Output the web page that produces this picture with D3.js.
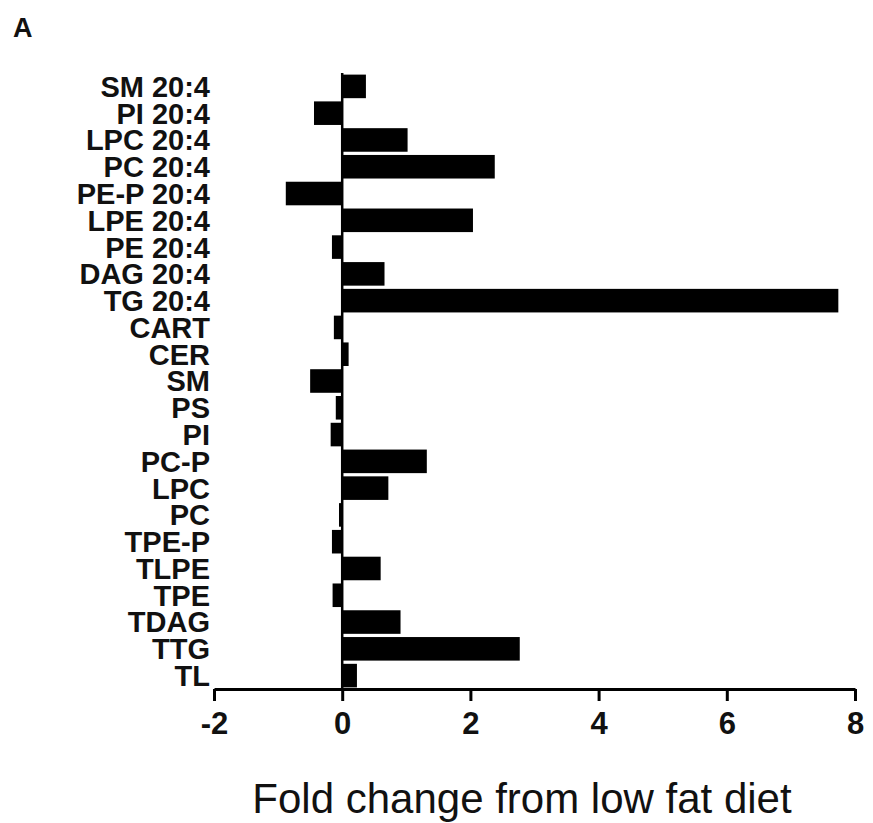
<!DOCTYPE html>
<html>
<head>
<meta charset="utf-8">
<script src="https://cdn.jsdelivr.net/npm/d3@7"></script>
<style>
  body { margin: 0; background: #fff; }
  svg { display: block; }
  text { font-family: "Liberation Sans", Arial, sans-serif; fill: #111; }
</style>
</head>
<body>
<script>
// lipid classes, top to bottom as in the figure
var lipids = ['SM 20:4', 'PI 20:4', 'LPC 20:4', 'PC 20:4', 'PE-P 20:4', 'LPE 20:4', 'PE 20:4',
              'DAG 20:4', 'TG 20:4', 'CART', 'CER', 'SM', 'PS', 'PI', 'PC-P', 'LPC', 'PC',
              'TPE-P', 'TLPE', 'TPE', 'TDAG', 'TTG', 'TL']

// fold change from low fat diet
var foldChange = [0.37, -0.44, 1.02, 2.38, -0.88, 2.04, -0.16,
                  0.66, 7.74, -0.13, 0.10, -0.50, -0.10, -0.18, 1.32, 0.72, -0.05,
                  -0.16, 0.60, -0.15, 0.91, 2.77, 0.23]

var xTicks = [-2, 0, 2, 4, 6, 8]
var xTitle = 'Fold change from low fat diet'
var panelLetter = 'A'

var width = 873
var height = 823

var svg = d3.select('body').append('svg')
    .attr('width', width)
    .attr('height', height)

var x = d3.scaleLinear().domain([-2, 8]).range([214, 855])
var y = d3.scaleBand().domain(lipids).range([73, 689])
    .paddingInner(0.12).paddingOuter(0.06)

var axisY = 689

// bars
svg.append('g').selectAll('rect')
    .data(lipids)
    .enter().append('rect')
        .attr('x', (d, i) => x(Math.min(0, foldChange[i])))
        .attr('y', d => y(d))
        .attr('width', (d, i) => Math.abs(x(foldChange[i]) - x(0)))
        .attr('height', y.bandwidth())
        .attr('fill', '#000')

// zero line
svg.append('line')
    .attr('x1', x(0)).attr('x2', x(0))
    .attr('y1', 73).attr('y2', axisY)
    .attr('stroke', '#000')
    .attr('stroke-width', 2.5)

// category labels
svg.append('g').selectAll('text')
    .data(lipids)
    .enter().append('text')
        .attr('x', 210)
        .attr('y', d => y(d) + y.bandwidth() / 2)
        .attr('dy', '0.36em')
        .attr('text-anchor', 'end')
        .style('font-size', '29px')
        .style('font-weight', 'bold')
        .text(d => d)

// x axis
var xAxis = d3.axisBottom(x)
    .tickValues(xTicks)
    .tickFormat(d => String(d))
    .tickSize(12)
    .tickSizeOuter(0)
    .tickPadding(11)

var gx = svg.append('g')
    .attr('transform', 'translate(0,' + axisY + ')')
    .call(xAxis)

gx.select('.domain').attr('stroke', '#000').attr('stroke-width', 3)
gx.selectAll('.tick line').attr('stroke', '#000').attr('stroke-width', 3)
gx.selectAll('.tick text')
    .attr('fill', '#111')
    .style('font-family', '"Liberation Sans", Arial, sans-serif')
    .style('font-size', '31px')
    .style('font-weight', 'bold')

// axis title
svg.append('text')
    .attr('x', 522)
    .attr('y', 813)
    .attr('text-anchor', 'middle')
    .style('font-size', '42px')
    .text(xTitle)

// panel letter
svg.append('text')
    .attr('x', 13)
    .attr('y', 37)
    .style('font-size', '27px')
    .style('font-weight', 'bold')
    .text(panelLetter)
</script>
</body>
</html>
